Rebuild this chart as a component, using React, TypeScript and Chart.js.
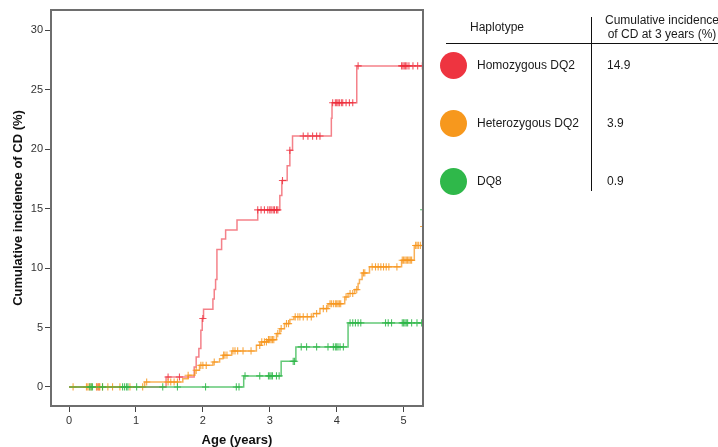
import React, { useEffect, useRef } from "react";
import { Chart, registerables } from "chart.js";
Chart.register(...registerables);

// ---------- data ----------
const xTickValues = [0, 1, 2, 3, 4, 5];
const yTickValues = [0, 5, 10, 15, 20, 25, 30];

const haplotypes = ["Homozygous DQ2", "Heterozygous DQ2", "DQ8"];
const incidenceAt3y = ["14.9", "3.9", "0.9"];
const seriesColors = ["#EE3440", "#F7981D", "#2FB84A"];

// Homozygous DQ2 (Kaplan–Meier steps: age at event, cumulative incidence after it)
const homoEventAge = [0, 1.45, 1.87, 1.9, 1.94, 1.97, 1.99, 2.01, 2.15, 2.17, 2.19, 2.21, 2.28, 2.34, 2.51, 2.82, 3.15, 3.18, 3.26, 3.3, 3.34, 3.92, 3.93, 4.3, 5.35];
const homoEventCI = [0, 0.84, 1.69, 2.53, 3.23, 4.78, 5.76, 6.54, 7.39, 8.2, 9.04, 11.57, 12.44, 13.2, 14.04, 14.89, 16.1, 17.36, 18.6, 19.9, 21.1, 22.6, 23.9, 27.0, 27.0];
const homoCensorAge = [0.42, 0.45, 1.48, 1.65, 2.0, 2.82, 2.87, 2.92, 2.97, 3.0, 3.02, 3.05, 3.07, 3.1, 3.12, 3.19, 3.3, 3.5, 3.57, 3.64, 3.7, 3.75, 3.94, 3.98, 4.0, 4.02, 4.04, 4.07, 4.09, 4.14, 4.19, 4.24, 4.32, 4.97, 4.99, 5.01, 5.03, 5.05, 5.08, 5.14, 5.21, 5.28];

// Heterozygous DQ2
const heteroEventAge = [0, 1.13, 1.7, 1.78, 1.88, 1.95, 2.15, 2.25, 2.3, 2.43, 2.8, 2.87, 2.97, 3.1, 3.15, 3.22, 3.3, 3.36, 3.65, 3.75, 3.87, 4.12, 4.17, 4.27, 4.32, 4.34, 4.38, 4.49, 4.97, 5.16, 5.29, 5.35];
const heteroEventCI = [0, 0.42, 0.7, 0.98, 1.4, 1.82, 2.1, 2.38, 2.67, 3.03, 3.5, 3.79, 3.98, 4.49, 4.9, 5.33, 5.67, 5.9, 6.17, 6.59, 7.0, 7.57, 7.86, 8.19, 8.7, 9.03, 9.59, 10.1, 10.66, 11.9, 13.5, 13.5];
const heteroCensorAge = [0.06, 0.26, 0.28, 0.3, 0.33, 0.41, 0.44, 0.46, 0.5, 0.58, 0.65, 0.76, 0.91, 1.1, 1.16, 1.48, 1.52, 1.57, 1.62, 1.78, 1.9, 1.97, 2.0, 2.05, 2.17, 2.31, 2.33, 2.36, 2.45, 2.48, 2.52, 2.6, 2.72, 2.85, 2.88, 2.92, 2.95, 2.98, 3.0, 3.02, 3.04, 3.06, 3.12, 3.17, 3.25, 3.28, 3.38, 3.42, 3.45, 3.5, 3.56, 3.62, 3.7, 3.8, 3.85, 3.9, 3.92, 3.95, 3.98, 4.0, 4.02, 4.04, 4.06, 4.14, 4.2, 4.24, 4.3, 4.4, 4.42, 4.53, 4.58, 4.62, 4.66, 4.7, 4.74, 4.78, 4.9, 4.98, 5.0, 5.02, 5.04, 5.06, 5.08, 5.1, 5.12, 5.18, 5.2, 5.22, 5.25, 5.3];

// DQ8
const dq8EventAge = [0, 2.61, 3.17, 3.39, 4.17, 5.29, 5.35];
const dq8EventCI = [0, 0.93, 2.16, 3.37, 5.39, 14.9, 14.9];
const dq8CensorAge = [0.31, 0.33, 0.35, 0.5, 0.8, 0.83, 0.86, 0.88, 1.01, 1.4, 1.62, 2.04, 2.5, 2.54, 2.63, 2.85, 2.98, 3.0, 3.02, 3.04, 3.1, 3.14, 3.35, 3.37, 3.47, 3.55, 3.7, 3.87, 3.95, 3.98, 4.0, 4.02, 4.05, 4.1, 4.2, 4.24, 4.28, 4.32, 4.36, 4.73, 4.77, 4.82, 4.98, 5.0, 5.02, 5.04, 5.06, 5.12, 5.2, 5.27, 5.3];

const X_MIN = -0.27;
const X_MAX = 5.29;
const Y_MIN = -1.6;
const Y_MAX = 31.7;

// ---------- helpers ----------
const FONT = "'Liberation Sans', Arial, Helvetica, sans-serif";

function stepValue(ages: number[], vals: number[], t: number): number {
  let v = vals[0];
  for (let i = 0; i < ages.length; i++) if (ages[i] <= t) v = vals[i];
  return v;
}

function curvePoints(ages: number[], vals: number[]) {
  return ages.map((a, i) => ({ x: a, y: vals[i] }));
}

function censorPoints(cens: number[], ages: number[], vals: number[]) {
  return cens.map((c) => ({ x: c, y: stepValue(ages, vals, c) }));
}

const lineColors = ["rgba(237,45,58,0.6)", "rgba(247,150,30,0.75)", "rgba(45,182,72,0.75)"];
const markColors = ["rgba(237,40,55,0.8)", "rgba(247,150,30,0.85)", "rgba(45,182,72,0.85)"];

const framePlugin = {
  id: "frame",
  afterDatasetsDraw(chart: any) {
    const { ctx, chartArea } = chart;
    ctx.save();
    ctx.strokeStyle = "#6e6e6e";
    ctx.lineWidth = 2;
    ctx.strokeRect(chartArea.left, chartArea.top, chartArea.right - chartArea.left, chartArea.bottom - chartArea.top);
    ctx.restore();
  },
};

export default function App() {
  const canvasRef = useRef<HTMLCanvasElement | null>(null);

  useEffect(() => {
    if (!canvasRef.current) return;
    const series = [
      { ages: homoEventAge, vals: homoEventCI, cens: homoCensorAge },
      { ages: heteroEventAge, vals: heteroEventCI, cens: heteroCensorAge },
      { ages: dq8EventAge, vals: dq8EventCI, cens: dq8CensorAge },
    ];
    const datasets: any[] = [];
    const drawOrder = [3, 2, 1];
    series.forEach((s, i) => {
      datasets.push({
        label: haplotypes[i],
        data: curvePoints(s.ages, s.vals),
        stepped: "before",
        borderColor: lineColors[i],
        borderWidth: 1.5,
        pointRadius: 0,
        fill: false,
        order: drawOrder[i],
      });
      datasets.push({
        label: haplotypes[i] + " censored",
        data: censorPoints(s.cens, s.ages, s.vals),
        showLine: false,
        pointStyle: "cross",
        pointRadius: 3.6,
        pointBorderWidth: 1.1,
        pointBorderColor: markColors[i],
        pointBackgroundColor: markColors[i],
        borderColor: markColors[i],
        order: drawOrder[i],
      });
    });

    const chart = new Chart(canvasRef.current, {
      type: "line",
      data: { datasets },
      options: {
        animation: false,
        responsive: false,
        maintainAspectRatio: false,
        layout: { padding: { left: 0, top: 10, right: 295, bottom: 0 } },
        plugins: { legend: { display: false }, tooltip: { enabled: false } },
        scales: {
          x: {
            type: "linear",
            min: X_MIN,
            max: X_MAX,
            afterBuildTicks: (scale: any) => {
              scale.ticks = xTickValues.map((v) => ({ value: v }));
            },
            afterFit: (scale: any) => {
              scale.height = 41;
            },
            grid: { drawOnChartArea: false, drawTicks: true, tickLength: 6, tickColor: "#444", tickWidth: 1 },
            border: { display: false },
            ticks: { color: "#333", font: { family: FONT, size: 11 }, padding: 2, maxRotation: 0, autoSkip: false },
            title: {
              display: true,
              text: "Age (years)",
              color: "#111",
              font: { family: FONT, size: 13, weight: "bold" },
              padding: { top: 0, bottom: -1 },
            },
          },
          y: {
            type: "linear",
            min: Y_MIN,
            max: Y_MAX,
            afterBuildTicks: (scale: any) => {
              scale.ticks = yTickValues.map((v) => ({ value: v }));
            },
            afterFit: (scale: any) => {
              scale.width = 51;
            },
            grid: { drawOnChartArea: false, drawTicks: true, tickLength: 6, tickColor: "#444", tickWidth: 1 },
            border: { display: false },
            ticks: { color: "#333", font: { family: FONT, size: 11 }, padding: 2, autoSkip: false },
            title: {
              display: true,
              text: "Cumulative incidence of CD (%)",
              color: "#111",
              font: { family: FONT, size: 13, weight: "bold" },
              padding: { top: 11, bottom: 0 },
            },
          },
        },
      },
      plugins: [framePlugin],
    });
    return () => chart.destroy();
  }, []);

  const rowY = [65, 123, 181];
  const textStyle: React.CSSProperties = {
    position: "absolute",
    fontFamily: FONT,
    fontSize: 12,
    color: "#1a1a1a",
    whiteSpace: "nowrap",
    lineHeight: "14px",
  };

  return (
    <div style={{ position: "fixed", left: 0, top: 0, width: 718, height: 447, overflow: "hidden", background: "#fff" }}>
      <canvas ref={canvasRef} width={718} height={447} style={{ position: "absolute", left: 0, top: 0 }} />
      <div style={{ ...textStyle, left: 470, top: 20 }}>Haplotype</div>
      <div style={{ ...textStyle, left: 596, top: 13, width: 132, textAlign: "center" }}>
        Cumulative incidence
        <br />
        of CD at 3 years (%)
      </div>
      <div style={{ position: "absolute", left: 591, top: 17, width: 1, height: 174, background: "#111" }} />
      <div style={{ position: "absolute", left: 446, top: 43, width: 272, height: 1, background: "#111" }} />
      {haplotypes.map((h, i) => (
        <React.Fragment key={h}>
          <div
            style={{
              position: "absolute",
              left: 453.5 - 13.5,
              top: rowY[i] - 13.5,
              width: 27,
              height: 27,
              borderRadius: "50%",
              background: seriesColors[i],
            }}
          />
          <div style={{ ...textStyle, left: 477, top: rowY[i] - 7 }}>{h}</div>
          <div style={{ ...textStyle, left: 607, top: rowY[i] - 7 }}>{incidenceAt3y[i]}</div>
        </React.Fragment>
      ))}
    </div>
  );
}
